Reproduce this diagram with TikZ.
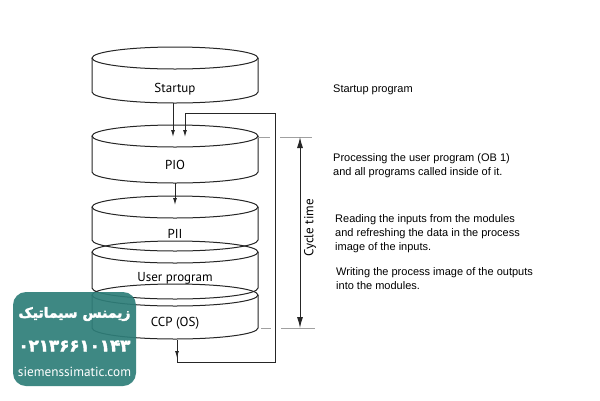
\documentclass[tikz,border=0pt]{standalone}
\usepackage{fontspec}
\setmainfont{Liberation Sans}
\newfontfamily\stackfont{PT Sans}
\newfontfamily\arabicfont[Script=Arabic,FakeBold=2.5]{DejaVu Sans Bold}
\TeXXeTstate=1
\usetikzlibrary{arrows.meta}
\definecolor{wmteal}{RGB}{46,126,121}
\definecolor{dimline}{RGB}{160,160,160}
\newcommand\mycyl[2]{%
  \draw[cyl] (92,#1) -- (92,#2) arc[start angle=180,end angle=360,x radius=83pt,y radius=11pt] -- (258,#1);
  \draw[cyl] (175,#1) ellipse[x radius=83pt,y radius=11pt];
}
\begin{document}
\begin{tikzpicture}[x=1pt,y=-1pt,
  cyl/.style={line width=1pt,black!85},
  lbl/.style={font=\stackfont\fontsize{13}{15}\selectfont,inner sep=0pt},
  desc/.style={font=\fontsize{11}{14}\selectfont,align=left,anchor=west,inner sep=0pt},
  arr/.style={line width=1pt,black!85,-{Latex[length=7pt,width=4pt]}},
  loopline/.style={line width=1pt,black!85},
  cyclearr/.style={line width=1pt,black!85,{Latex[length=11pt,width=6pt]}-{Latex[length=11pt,width=6pt]}},
  dimgray/.style={line width=0.8pt,dimline},
  wmbox/.style={fill=wmteal,fill opacity=0.92,rounded corners=13pt},
  wmtext/.style={text=white,inner sep=0pt}]
\useasboundingbox[fill=white] (0,0) rectangle (600,400);

% stack
\mycyl{58}{92}
\mycyl{136}{172}
\mycyl{207}{240}
\mycyl{252}{288}
\mycyl{295}{328}

\node[lbl] (startup) at (175,89) {Startup};
\node[lbl] (pio) at (175,165) {PIO};
\node[lbl] (pii) at (175,234) {PII};
\node[lbl] (user) at (175,278) {User program};
\node[lbl] (ccp) at (175,323) {CCP (OS)};

% connectors
\coordinate (sbot) at (173,103);
\coordinate (ptop) at (173,137);
\coordinate (pbot) at (175,183);
\coordinate (iitop) at (175,205);
\coordinate (cbot) at (177,340);
\coordinate (carr) at (177,358);
\coordinate (lbl1) at (177,362);
\coordinate (lbr) at (275,362);
\coordinate (ltr) at (275,113);
\coordinate (ltl) at (185,113);
\coordinate (ptop2) at (185,137);
\draw[arr] (sbot) -- (ptop);
\draw[arr] (pbot) -- (iitop);
\draw[arr] (cbot) -- (carr);
\draw[loopline] (cbot) -- (lbl1) -- (lbr) -- (ltr) -- (ltl);
\draw[arr] (ltl) -- (ptop2);

% cycle time
\coordinate (ctop) at (300,137);
\coordinate (cbottom) at (300,328);
\draw[dimgray] (258,137) -- (270,137);
\draw[dimgray] (280,137) -- (312,137);
\draw[dimgray] (261,328) -- (271,328);
\draw[dimgray] (281,328) -- (315,328);
\draw[cyclearr] (ctop) -- (cbottom);
\node[lbl,rotate=90] (ctime) at (310,228) {Cycle time};

% descriptions
\node[desc] (d1) at (333,90) {Startup program};
\node[desc] (d2) at (333,165.5) {Processing the user program (OB 1)\\and all programs called inside of it.};
\node[desc] (d3) at (335,234) {Reading the inputs from the modules\\and refreshing the data in the process\\image of the inputs.};
\node[desc] (d4) at (336,279) {Writing the process image of the outputs\\into the modules.};

% watermark
\fill[wmbox] (13,292) rectangle (136,386);
\node[wmtext] (wm1) at (74.5,314) {\resizebox{112pt}{!}{\arabicfont\beginR زیمنس سیماتیک\endR}};
\node[wmtext] (wm2) at (74.5,346) {\resizebox{112pt}{!}{\arabicfont ۰۲۱۳۶۶۱۰۱۴۳}};
\node[wmtext] (wm3) at (74.5,372) {\resizebox{113pt}{!}{\stackfont siemenssimatic.com}};
\end{tikzpicture}
\end{document}
